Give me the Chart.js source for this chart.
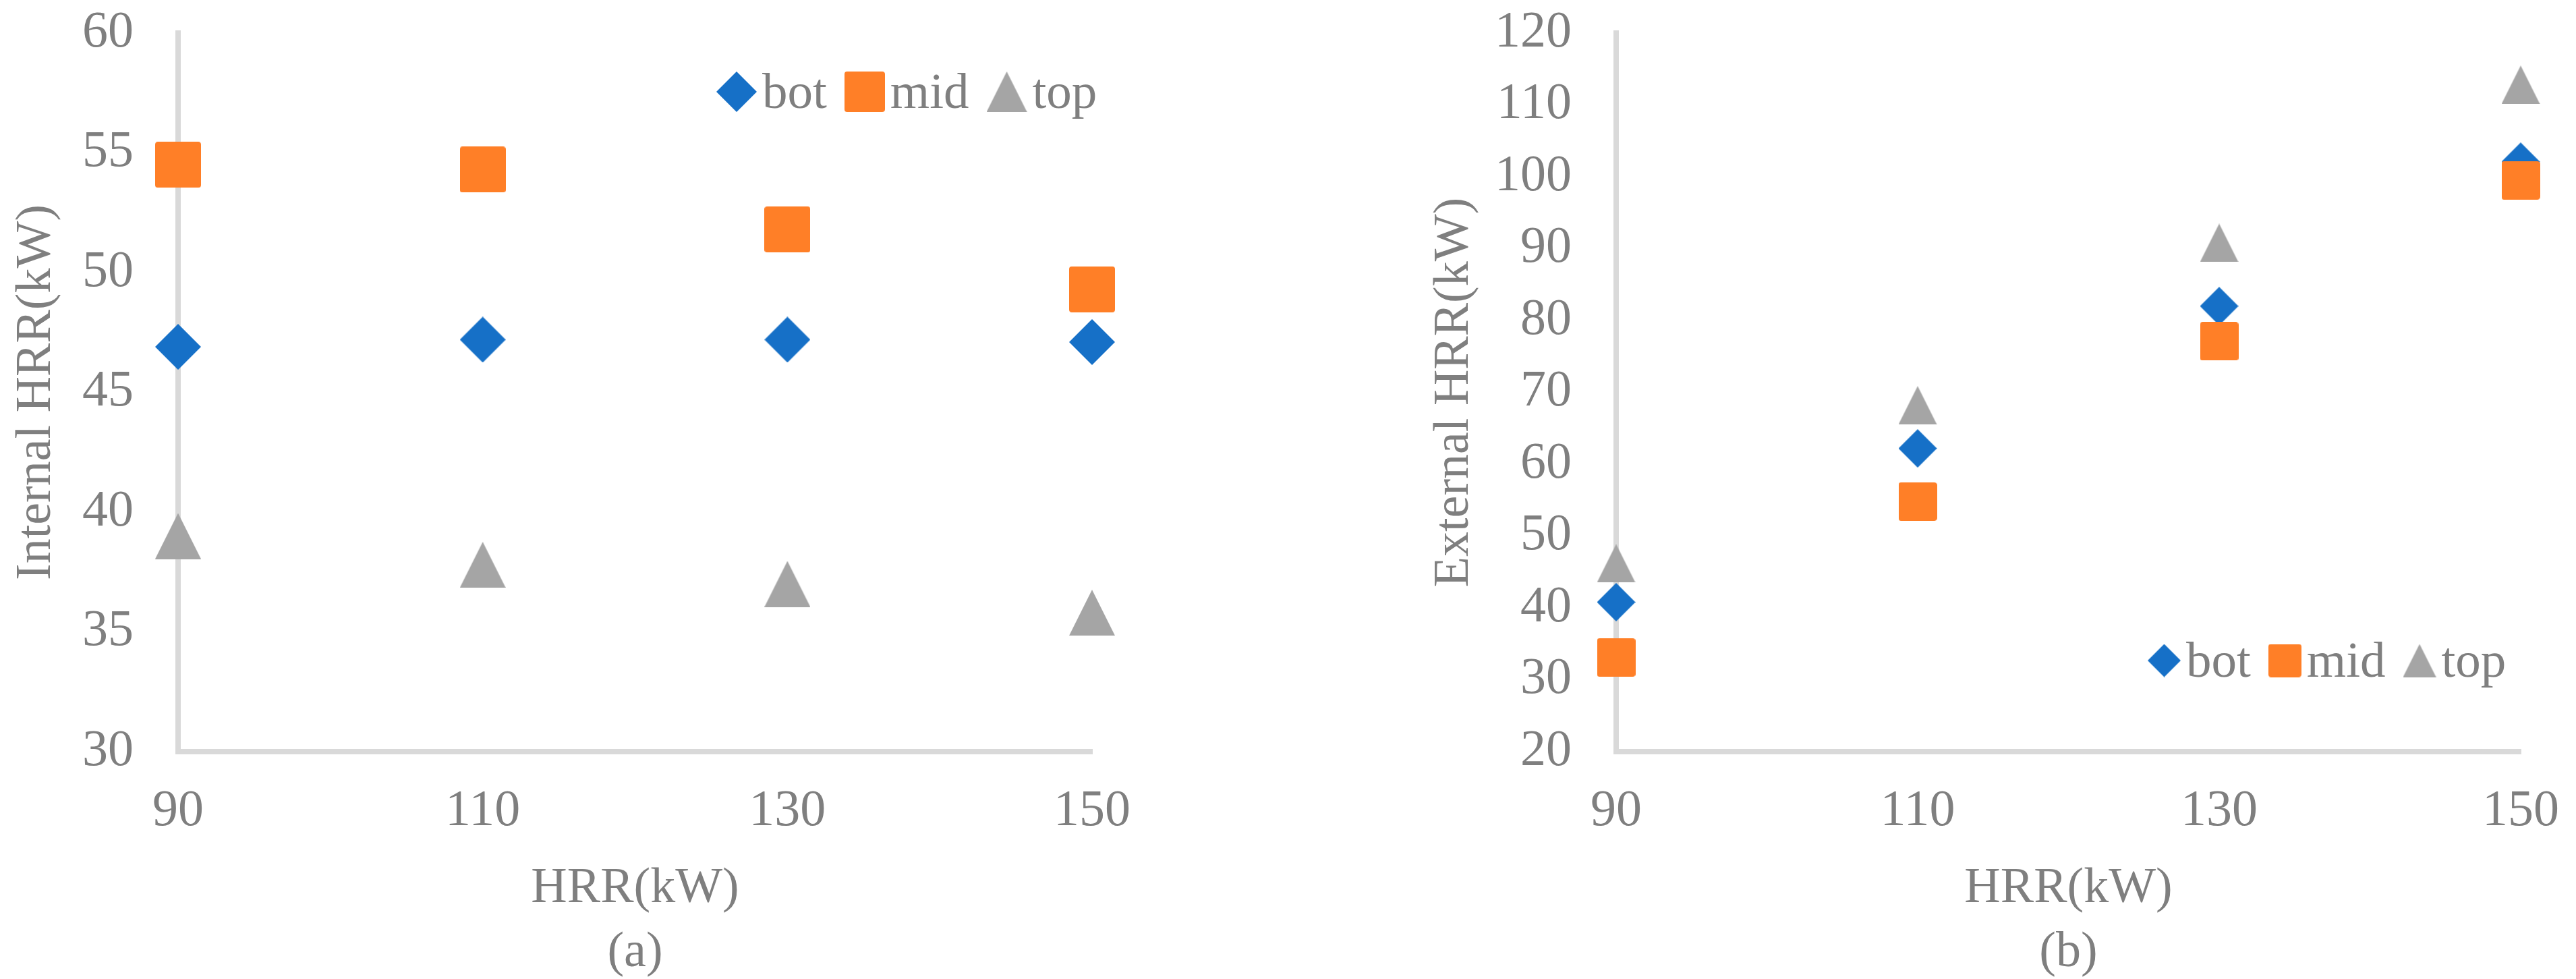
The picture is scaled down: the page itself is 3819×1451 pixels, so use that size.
<!DOCTYPE html>
<html>
<head>
<meta charset="utf-8">
<script src="https://cdn.jsdelivr.net/npm/chart.js@4.4.1/dist/chart.umd.min.js"></script>
<style>
html,body{margin:0;padding:0;background:#ffffff;overflow:hidden;width:3819px;height:1451px;}
#wrapA{position:absolute;left:0;top:0;width:1900px;height:1500px;}
#wrapB{position:absolute;left:1900px;top:0;width:1919px;height:1500px;}
</style>
</head>
<body>
<div id="wrapA"><canvas id="chartA"></canvas></div>
<div id="wrapB"><canvas id="chartB"></canvas></div>
<script>
// ---------- data ----------
const hrr = [90, 110, 130, 150];
const seriesNames = ['bot', 'mid', 'top'];

const internalBot = [46.9, 47.2, 47.2, 47.1];
const internalMid = [54.5, 54.3, 51.8, 49.3];
const internalTop = [39.0, 37.8, 37.0, 35.8];

const externalBot = [40.8, 62.2, 82.0, 102.1];
const externalMid = [33.1, 54.8, 77.1, 99.5];
const externalTop = [46.2, 68.2, 90.8, 112.8];

const xTickValues = [90, 110, 130, 150];
const internalTickValues = [30, 35, 40, 45, 50, 55, 60];
const externalTickValues = [20, 30, 40, 50, 60, 70, 80, 90, 100, 110, 120];

const xTitleLines = ['HRR(kW)'];
const panelLabels = ['(a)', '(b)'];
const yTitles = ['Internal HRR(kW)', 'External HRR(kW)'];

// ---------- styles ----------
const FONT = "'Liberation Serif', 'Times New Roman', serif";
const TEXT = '#7f7f7f';
const AXIS = '#d9d9d9';
const COLORS = ['#1670c7', '#ff7f27', '#a5a5a5'];

function makeMarker(shape, w, h, color) {
  const c = document.createElement('canvas');
  c.width = w; c.height = h;
  const g = c.getContext('2d');
  g.fillStyle = color;
  g.beginPath();
  if (shape === 'diamond') {
    g.moveTo(w / 2, 0); g.lineTo(w, h / 2); g.lineTo(w / 2, h); g.lineTo(0, h / 2);
  } else if (shape === 'square') {
    if (g.roundRect) g.roundRect(0, 0, w, h, 4); else g.rect(0, 0, w, h);
  } else {
    g.moveTo(w / 2, 0); g.lineTo(w, h); g.lineTo(0, h);
  }
  g.closePath();
  g.fill();
  return c;
}
const SHAPES = ['diamond', 'square', 'triangle'];
function markerSet(size) { return SHAPES.map((s, i) => makeMarker(s, size, size, COLORS[i])); }

const markersA = markerSet(68);
const markersB = markerSet(57);
const legendA = markerSet(60);
const legendB = markerSet(49);

const legendPlugin = {
  id: 'markerLegend',
  afterDraw(chart, args, opts) {
    const ctx = chart.ctx;
    ctx.save();
    ctx.font = opts.fontSize + 'px ' + FONT;
    ctx.fillStyle = TEXT;
    ctx.textAlign = 'left';
    ctx.textBaseline = 'alphabetic';
    let x = opts.x;
    chart.data.datasets.forEach((ds, i) => {
      const img = opts.markers[i];
      ctx.drawImage(img, x, opts.y - img.height / 2);
      x += img.width + opts.gap1;
      ctx.fillText(ds.label, x, opts.y + opts.baselineShift);
      x += ctx.measureText(ds.label).width + opts.gap2;
    });
    ctx.restore();
  }
};

function toPoints(ys) { return hrr.map((x, i) => ({ x: x, y: ys[i] })); }

function buildDatasets(series, markers) {
  return series.map((ys, i) => ({
    label: seriesNames[i],
    data: toPoints(ys),
    pointStyle: markers[i],
    pointRadius: markers[i].width / 2,
    pointHoverRadius: markers[i].width / 2,
    backgroundColor: COLORS[i],
    borderColor: COLORS[i],
    showLine: false,
    clip: false,
    order: 3 - i
  }));
}

function buildChart(canvasId, series, markers, yTicks, yTitle, panel, yWidth, yTitlePad, padRight, legendOpts) {
  return new Chart(document.getElementById(canvasId), {
    type: 'scatter',
    data: { datasets: buildDatasets(series, markers) },
    plugins: [legendPlugin],
    options: {
      responsive: true,
      maintainAspectRatio: false,
      animation: false,
      events: [],
      layout: { padding: { left: 0, right: padRight, top: 49, bottom: 0 } },
      plugins: {
        legend: { display: false },
        tooltip: { enabled: false },
        markerLegend: legendOpts
      },
      scales: {
        x: {
          type: 'linear',
          min: xTickValues[0],
          max: xTickValues[xTickValues.length - 1],
          afterBuildTicks: s => { s.ticks = xTickValues.map(v => ({ value: v })); },
          afterFit: s => { s.height = 386; s.paddingLeft = 0; s.paddingRight = 0; },
          grid: { display: false, drawTicks: false },
          border: { display: true, color: AXIS, width: 8 },
          ticks: { color: TEXT, font: { family: FONT, size: 76 }, padding: 43, maxRotation: 0, autoSkip: false },
          title: {
            display: true,
            text: xTitleLines.concat([panel]),
            color: TEXT,
            font: { family: FONT, size: 74, lineHeight: 1.28 },
            padding: { top: 0, bottom: 40 }
          }
        },
        y: {
          type: 'linear',
          min: yTicks[0],
          max: yTicks[yTicks.length - 1],
          afterBuildTicks: s => { s.ticks = yTicks.map(v => ({ value: v })); },
          afterFit: s => { s.width = yWidth; s.paddingTop = 0; s.paddingBottom = 0; },
          grid: { display: false, drawTicks: false },
          border: { display: true, color: AXIS, width: 8 },
          ticks: { color: TEXT, font: { family: FONT, size: 76 }, padding: 66, autoSkip: false },
          title: {
            display: true,
            text: yTitle,
            color: TEXT,
            font: { family: FONT, size: 74 },
            padding: { top: yTitlePad, bottom: 0 }
          }
        }
      }
    }
  });
}

buildChart('chartA', [internalBot, internalMid, internalTop], markersA, internalTickValues,
  yTitles[0], panelLabels[0], 264, 10, 281,
  { x: 1062, y: 136, markers: legendA, gap1: 8, gap2: 26, fontSize: 75, baselineShift: 24 });

buildChart('chartB', [externalBot, externalMid, externalTop], markersB, externalTickValues,
  yTitles[1], panelLabels[1], 496, 212, 82,
  { x: 1284, y: 979, markers: legendB, gap1: 8, gap2: 26, fontSize: 75, baselineShift: 24 });
</script>
</body>
</html>
